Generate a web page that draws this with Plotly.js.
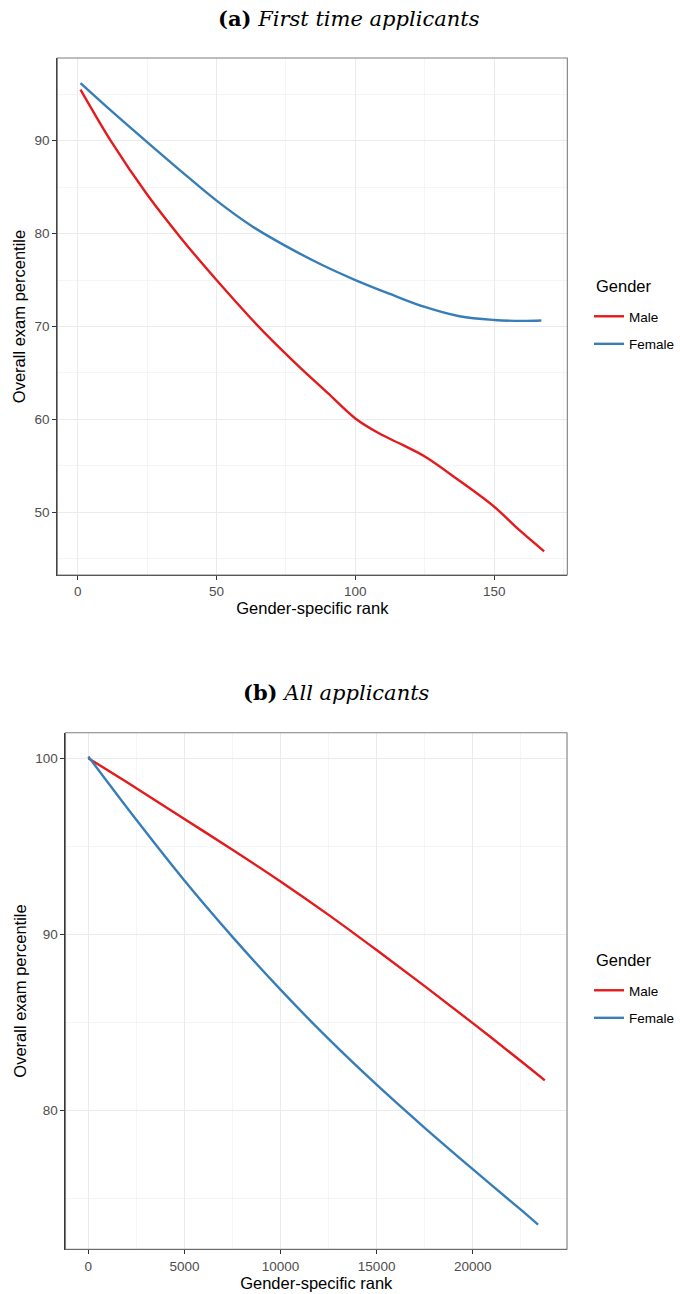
<!DOCTYPE html>
<html>
<head>
<meta charset="utf-8">
<script src="https://cdn.plot.ly/plotly-3.0.1.min.js"></script>
<style>
  html, body { margin: 0; padding: 0; background: #ffffff; }
  #chart { width: 680px; height: 1294px; }
</style>
</head>
<body>
<div id="chart"></div>
<script>
// (a) First time applicants: gender-specific rank vs overall exam percentile
const firstMaleRank = [1, 12.5, 25, 37.5, 50, 62, 70, 80, 90, 100, 108.5, 117, 125, 137, 150, 159, 168];
const firstMalePct  = [95.5, 89.7, 84.2, 79.4, 75.0, 71.0, 68.5, 65.6, 62.85, 60.1, 58.5, 57.25, 56.0, 53.5, 50.6, 48.1, 45.8];
const firstFemaleRank = [1, 12.5, 25, 37.5, 50, 62.5, 75, 87.5, 100, 112.5, 125, 137.5, 150, 160, 167];
const firstFemalePct  = [96.2, 93.1, 89.85, 86.65, 83.55, 80.85, 78.65, 76.7, 75.0, 73.5, 72.1, 71.1, 70.7, 70.6, 70.65];

// (b) All applicants
const allMaleRank = [1, 2500, 5000, 7500, 10000, 12500, 15000, 17500, 20000, 22500, 23750];
const allMalePct  = [100.0, 98.3, 96.55, 94.8, 93.0, 91.1, 89.1, 87.05, 84.95, 82.8, 81.7];
const allFemaleRank = [1, 2500, 5000, 7500, 10000, 12500, 15000, 17500, 20000, 22500, 23400];
const allFemalePct  = [100.1, 96.5, 93.05, 89.85, 86.85, 84.05, 81.45, 79.0, 76.65, 74.35, 73.5];

const genders = ['Male', 'Female'];
const genderColors = ['#E41A1C', '#377EB8'];
const legendTitle = 'Gender';

const firstTicksX = [0, 50, 100, 150];
const firstTicksY = [50, 60, 70, 80, 90];
const allTicksX = [0, 5000, 10000, 15000, 20000];
const allTicksY = [80, 90, 100];

const W = 680, H = 1294;
const px = v => v / W;
const py = v => 1 - v / H;

function lineTrace(x, y, i, xa, ya, leg) {
  return {
    x: x, y: y, type: 'scatter', mode: 'lines',
    name: genders[i], legendgroup: leg + genders[i], legend: leg,
    xaxis: xa, yaxis: ya,
    line: { color: genderColors[i], width: 2.4, shape: 'spline', smoothing: 1.0 },
    hoverinfo: 'x+y'
  };
}

const traces = [
  lineTrace(firstMaleRank, firstMalePct, 0, 'x', 'y', 'legend'),
  lineTrace(firstFemaleRank, firstFemalePct, 1, 'x', 'y', 'legend'),
  lineTrace(allMaleRank, allMalePct, 0, 'x2', 'y2', 'legend2'),
  lineTrace(allFemaleRank, allFemalePct, 1, 'x2', 'y2', 'legend2')
];

const sans = 'Liberation Sans, Arial, sans-serif';
const tickFont = { family: sans, size: 13.5, color: '#4D4D4D' };
const titleFont = { family: sans, size: 16.5, color: '#000000' };

function axisBase(extra) {
  return Object.assign({
    showline: true, linecolor: '#333333', linewidth: 1.1, mirror: false,
    ticks: 'outside', ticklen: 4, tickwidth: 1.1, tickcolor: '#333333',
    tickfont: tickFont, tickformat: 'd',
    showgrid: true, gridcolor: '#EBEBEB', gridwidth: 1.1,
    zeroline: false, fixedrange: true
  }, extra);
}

const legendBase = {
  xanchor: 'left', yanchor: 'top',
  font: { family: sans, size: 13.5, color: '#000000' },
  traceorder: 'grouped', tracegroupgap: 7, itemwidth: 30,
  bgcolor: 'rgba(0,0,0,0)', borderwidth: 0
};

const serif = 'DejaVu Serif, Liberation Serif, serif';

function textNote(text, x, y, font, anchor) {
  return { text: text, xref: 'paper', yref: 'paper', x: px(x), y: py(y),
    xanchor: anchor, yanchor: 'middle', showarrow: false, font: font };
}

const layout = {
  width: W, height: H,
  margin: { l: 0, r: 0, t: 0, b: 0 },
  paper_bgcolor: '#ffffff', plot_bgcolor: '#ffffff',
  showlegend: true,
  xaxis: axisBase({
    domain: [px(57.5), px(569)], anchor: 'y',
    range: [-7.35, 176.35], tickvals: firstTicksX,
    minor: { tickvals: [25, 75, 125, 175], showgrid: true, gridcolor: '#F3F3F3', gridwidth: 0.8, ticks: '' },
    title: { text: 'Gender-specific rank', font: titleFont, standoff: 4 }
  }),
  yaxis: axisBase({
    domain: [py(575), py(58)], anchor: 'x',
    range: [43.25, 98.9], tickvals: firstTicksY,
    minor: { tickvals: [45, 55, 65, 75, 85, 95], showgrid: true, gridcolor: '#F3F3F3', gridwidth: 0.8, ticks: '' },
    title: { text: 'Overall exam percentile', font: titleFont, standoff: 4 }
  }),
  xaxis2: axisBase({
    domain: [px(65.7), px(568.7)], anchor: 'y2',
    range: [-1185, 24906], tickvals: allTicksX,
    minor: { tickvals: [2500, 7500, 12500, 17500, 22500], showgrid: true, gridcolor: '#F3F3F3', gridwidth: 0.8, ticks: '' },
    title: { text: 'Gender-specific rank', font: titleFont, standoff: 4 }
  }),
  yaxis2: axisBase({
    domain: [py(1249.3), py(732.7)], anchor: 'x2',
    range: [72.1, 101.45], tickvals: allTicksY,
    minor: { tickvals: [75, 85, 95], showgrid: true, gridcolor: '#F3F3F3', gridwidth: 0.8, ticks: '' },
    title: { text: 'Overall exam percentile', font: titleFont, standoff: 4 }
  }),
  legend: Object.assign({}, legendBase, { x: px(591), y: py(301) }),
  legend2: Object.assign({}, legendBase, { x: px(591), y: py(975) }),
  shapes: [
    // panel borders
    { type: 'rect', xref: 'x domain', yref: 'y domain', x0: 0, x1: 1, y0: 0, y1: 1,
      line: { color: '#7F7F7F', width: 1.1 }, fillcolor: 'rgba(0,0,0,0)', layer: 'above' },
    { type: 'rect', xref: 'x2 domain', yref: 'y2 domain', x0: 0, x1: 1, y0: 0, y1: 1,
      line: { color: '#7F7F7F', width: 1.1 }, fillcolor: 'rgba(0,0,0,0)', layer: 'above' }
  ],
  annotations: [
    textNote('<b>(a)</b> <i>First time applicants</i>', 350.5, 18, { family: serif, size: 21, color: '#000000' }, 'center'),
    textNote('<b>(b)</b> <i>All applicants</i>', 337.5, 692, { family: serif, size: 21, color: '#000000' }, 'center'),
    textNote(legendTitle, 596, 286, { family: sans, size: 16.5, color: '#000000' }, 'left'),
    textNote(legendTitle, 596, 960, { family: sans, size: 16.5, color: '#000000' }, 'left')
  ]
};

Plotly.newPlot('chart', traces, layout, { displayModeBar: false, staticPlot: true });
</script>
</body>
</html>
